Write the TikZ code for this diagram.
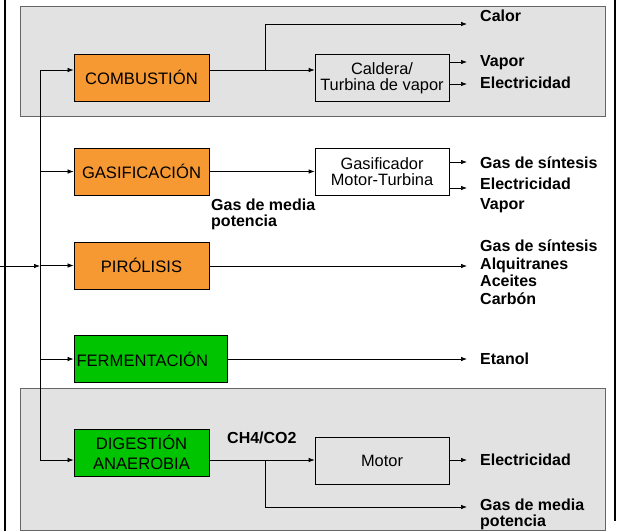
\documentclass[tikz,border=0pt]{standalone}
\usepackage{fontspec}
\setmainfont{Liberation Sans}
\usetikzlibrary{arrows.meta}
\definecolor{naranja}{RGB}{247,153,51}
\definecolor{verde}{RGB}{0,196,0}
\definecolor{fondo}{RGB}{226,226,226}
\tikzset{
  proceso/.style={draw, line width=0.8pt, inner sep=0pt, minimum width=135pt,
    minimum height=47pt, align=center, font=\fontsize{16.6}{19.3}\selectfont},
  equipo/.style={draw, line width=0.7pt, inner sep=0pt, minimum width=134pt,
    minimum height=47pt, align=center, font=\fontsize{16.4}{16.3}\selectfont},
  etiqueta/.style={anchor=base west, inner sep=0pt, font=\fontsize{16}{17}\selectfont\bfseries},
  zona/.style={fill=fondo, draw=black!60, line width=0.8pt},
  flecha/.style={-{Latex[length=6pt,width=4.5pt]}, line width=0.7pt},
  linea/.style={line width=0.7pt}
}
\begin{document}
\begin{tikzpicture}[x=1pt,y=-1pt]
		\useasboundingbox (0,0) rectangle (618,531);
		% zonas sombreadas
		\filldraw [zona] (20,6) rectangle (605,116);
		\filldraw [zona] (20,388) rectangle (605,530);
		\draw [line width=2pt] (5,0) -- (5,531);
		\draw [line width=2pt] (615,0) -- (615,521);
		% procesos
		\node [proceso, fill=naranja] (comb) at (141.5,77.5) {COMBUSTIÓN};
		\node [proceso, fill=naranja] (gasif) at (141.5,171.5) {GASIFICACIÓN};
		\node [proceso, fill=naranja] (piro) at (141.5,265.5) {PIRÓLISIS};
		\node [proceso, fill=verde, minimum width=153pt, text width=148pt, align=left, inner xsep=2.5pt] (ferm) at (150.5,359) {FERMENTACIÓN};
		\node [proceso, fill=verde] (dig) at (141.5,452.5) {DIGESTIÓN\\ANAEROBIA};
		% equipos
		\node [equipo] (caldera) at (382,78) {Caldera/\\Turbina de vapor};
		\node [equipo] (gasificador) at (382,171.5) {Gasificador\\Motor-Turbina};
		\node [equipo] (motor) at (382,460.5) {Motor};
		% productos
		\node [etiqueta] (calor) at (480,21) {Calor};
		\node [etiqueta] (vapor1) at (480,66) {Vapor};
		\node [etiqueta] (elec1) at (480,88) {Electricidad};
		\node [etiqueta] (sint1) at (480,168) {Gas de síntesis};
		\node [etiqueta] (elec2) at (480,189) {Electricidad};
		\node [etiqueta] (vapor2) at (480,209.5) {Vapor};
		\node [etiqueta] (gmedia1) at (211,210) {Gas de media};
		\node [etiqueta] (pot1) at (211,226) {potencia};
		\node [etiqueta] (sint2) at (480,251.7) {Gas de síntesis};
		\node [etiqueta] (alq) at (480,269.2) {Alquitranes};
		\node [etiqueta] (aceites) at (480,286.6) {Aceites};
		\node [etiqueta] (carbon) at (480,304) {Carbón};
		\node [etiqueta] (etanol) at (480,364) {Etanol};
		\node [etiqueta] (ch4) at (227,443.5) {CH4/CO2};
		\node [etiqueta] (elec3) at (480,465) {Electricidad};
		\node [etiqueta] (gmedia2) at (480,510) {Gas de media};
		\node [etiqueta] (pot2) at (480,526) {potencia};
		% puntos de paso
		\coordinate (tronco) at (40,70);
		\coordinate (base) at (40,460);
		\coordinate (entrada) at (0,266);
		\coordinate (rama1) at (265,70);
		\coordinate (rama2) at (265,460);
		\coordinate (fcalor) at (467,24);
		\coordinate (fvapor1) at (467,62);
		\coordinate (felec1) at (467,84);
		\coordinate (fsint1) at (467,162);
		\coordinate (felec2) at (467,188);
		\coordinate (fpiro) at (467,266);
		\coordinate (fferm) at (467,359);
		\coordinate (felec3) at (467,460);
		\coordinate (fmedia) at (467,507);
		% conexiones
		\draw [linea] (tronco) -- (base);
		\draw [flecha] (entrada) -- (entrada -| tronco);
		\draw [flecha] (tronco) -- (tronco -| comb.west);
		\draw [flecha] (gasif.west -| tronco) -- (gasif.west);
		\draw [flecha] (piro.west -| tronco) -- (piro.west);
		\draw [flecha] (ferm.west -| tronco) -- (ferm.west);
		\draw [flecha] (base) -- (base -| dig.west);
		\draw [flecha] (tronco -| comb.east) -- (tronco -| caldera.west);
		\draw [flecha] (rama1) |- (fcalor);
		\draw [flecha] (fvapor1 -| caldera.east) -- (fvapor1);
		\draw [flecha] (felec1 -| caldera.east) -- (felec1);
		\draw [flecha] (gasif.east) -- (gasificador.west);
		\draw [flecha] (fsint1 -| gasificador.east) -- (fsint1);
		\draw [flecha] (felec2 -| gasificador.east) -- (felec2);
		\draw [flecha] (fpiro -| piro.east) -- (fpiro);
		\draw [flecha] (fferm -| ferm.east) -- (fferm);
		\draw [flecha] (base -| dig.east) -- (base -| motor.west);
		\draw [flecha] (rama2) |- (fmedia);
		\draw [flecha] (felec3 -| motor.east) -- (felec3);
\end{tikzpicture}
\end{document}
